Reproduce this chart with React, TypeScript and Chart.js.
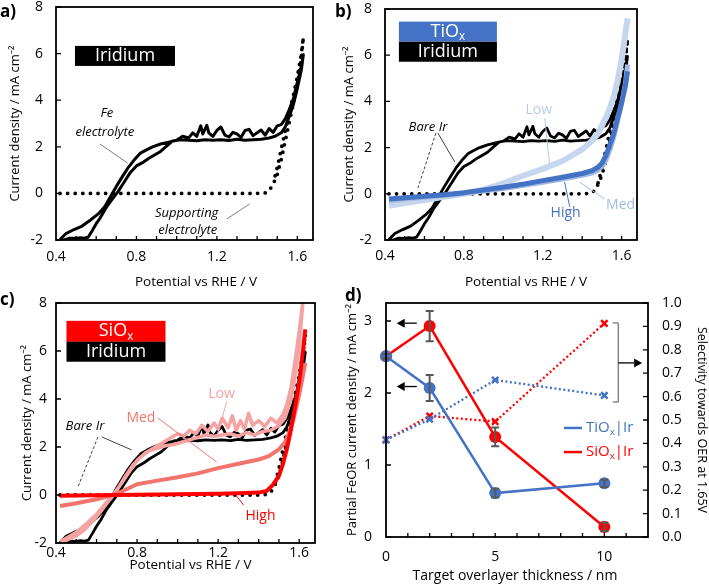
import React, { useEffect, useRef } from "react";
import { Chart, registerables } from "chart.js";

Chart.register(...registerables);

const FONT = '"Open Sans", "Noto Sans", "DejaVu Sans", sans-serif';

// ---------------- data ----------------
const potentialTicks = [0.4, 0.8, 1.2, 1.6];
const potentialMinorTicks = [0.5, 0.6, 0.7, 0.8, 0.9, 1.0, 1.1, 1.2, 1.3, 1.4, 1.5, 1.6];
const currentTicks = [-2, 0, 2, 4, 6, 8];
const thicknessTicks = [0, 5, 10];
const thicknessMinorTicks = [1, 2, 3, 4, 5, 6, 7, 8, 9, 10, 11];
const feorTicks = [0, 1, 2, 3];
const selectivityTicks = [0, 0.1, 0.2, 0.3, 0.4, 0.5, 0.6, 0.7, 0.8, 0.9, 1.0];

// Bare Ir in Fe electrolyte (forward then reverse sweep)
const bareIrPotential = [
  0.42, 0.45, 0.49, 0.53, 0.57, 0.61, 0.64, 0.67, 0.70, 0.73, 0.76, 0.79, 0.82, 0.85, 0.88, 0.92, 0.96, 1.00, 1.03, 1.06,
  1.08, 1.10, 1.12, 1.13, 1.15, 1.16, 1.18, 1.20, 1.22, 1.24, 1.26, 1.28, 1.30, 1.32, 1.34, 1.36, 1.38, 1.40, 1.42, 1.44,
  1.46, 1.48, 1.50, 1.52, 1.54, 1.56, 1.58, 1.60, 1.62, 1.63,
  1.62, 1.60, 1.58, 1.56, 1.54, 1.52, 1.49, 1.46, 1.42, 1.38, 1.34, 1.30, 1.26, 1.22, 1.18, 1.14, 1.10, 1.06, 1.02, 0.98,
  0.95, 0.92, 0.89, 0.86, 0.83, 0.80, 0.77, 0.74, 0.71, 0.68, 0.65, 0.62, 0.60, 0.58, 0.56, 0.54, 0.52, 0.50, 0.47, 0.44, 0.42,
];
const bareIrCurrent = [
  -1.98, -1.72, -1.55, -1.4, -1.15, -0.88, -0.6, -0.15, 0.3, 0.72, 1.12, 1.45, 1.73, 1.87, 2.0, 2.12, 2.2, 2.28, 2.45, 2.38,
  2.6, 2.45, 2.9, 2.55, 2.92, 2.6, 2.45, 2.7, 2.85, 2.5, 2.42, 2.62, 2.55, 2.4, 2.7, 2.75, 2.48, 2.6, 2.72, 2.5,
  2.78, 2.62, 2.9, 2.95, 3.2, 3.6, 4.05, 4.75, 5.45, 5.95,
  5.3, 4.5, 3.8, 3.3, 2.85, 2.6, 2.45, 2.38, 2.32, 2.3, 2.28, 2.32, 2.27, 2.3, 2.28, 2.3, 2.26, 2.28, 2.3, 2.25,
  2.03, 1.8, 1.65, 1.5, 1.32, 1.18, 0.9, 0.5, 0.1, -0.25, -0.6, -1.05, -1.3, -1.6, -1.88, -1.92, -1.9, -1.93, -1.92, -2.0, -2.05,
];

// Supporting electrolyte
const supportPotential = [
  0.42, 0.5, 0.6, 0.7, 0.8, 0.9, 1.0, 1.1, 1.2, 1.3, 1.4, 1.44, 1.46, 1.48, 1.5, 1.52, 1.54, 1.56, 1.58, 1.6, 1.62, 1.63,
  1.62, 1.6, 1.58, 1.56, 1.54, 1.52, 1.5, 1.48,
];
const supportCurrent = [
  0, 0, 0, 0, 0, 0, 0, 0, 0, 0, 0, 0.02, 0.12, 0.4, 0.8, 1.45, 2.25, 3.05, 3.85, 4.7, 5.8, 6.7,
  6.0, 5.0, 4.2, 3.45, 2.7, 1.9, 1.1, 0.45,
];

// TiOx | Ir
const tiLowPotential = [0.42, 0.5, 0.6, 0.7, 0.8, 0.9, 1.0, 1.1, 1.2, 1.3, 1.4, 1.45, 1.48, 1.5, 1.52, 1.54, 1.56, 1.58, 1.6, 1.63];
const tiLowCurrent = [-0.52, -0.4, -0.27, -0.13, 0.0, 0.18, 0.45, 0.78, 1.08, 1.42, 1.92, 2.3, 2.6, 2.95, 3.3, 3.7, 4.2, 4.9, 5.8, 7.6];
const tiMedPotential = [0.42, 0.5, 0.6, 0.7, 0.8, 0.9, 1.0, 1.1, 1.2, 1.3, 1.4, 1.45, 1.48, 1.5, 1.52, 1.54, 1.56, 1.58, 1.6, 1.62, 1.63];
const tiMedCurrent = [-0.3, -0.23, -0.15, -0.07, 0.02, 0.12, 0.23, 0.36, 0.5, 0.64, 0.8, 0.9, 1.02, 1.18, 1.45, 1.9, 2.45, 3.15, 3.9, 4.8, 5.6];
const tiHighPotential = [0.42, 0.5, 0.6, 0.7, 0.8, 0.9, 1.0, 1.1, 1.2, 1.3, 1.4, 1.45, 1.48, 1.5, 1.52, 1.54, 1.56, 1.58, 1.6, 1.62, 1.63];
const tiHighCurrent = [-0.23, -0.17, -0.11, -0.04, 0.05, 0.16, 0.28, 0.42, 0.57, 0.72, 0.88, 1.0, 1.15, 1.32, 1.65, 2.1, 2.6, 3.3, 3.95, 4.7, 5.3];

// SiOx | Ir
const siLowPotential = [
  0.42, 0.46, 0.5, 0.55, 0.6, 0.64, 0.68, 0.72, 0.76, 0.8, 0.84, 0.88, 0.92, 0.96, 1.0, 1.03, 1.06, 1.09, 1.12, 1.15,
  1.18, 1.2, 1.22, 1.25, 1.27, 1.29, 1.31, 1.33, 1.35, 1.37, 1.4, 1.43, 1.46, 1.49, 1.52, 1.54, 1.56, 1.58, 1.6, 1.62,
  1.6, 1.58, 1.56, 1.53, 1.5, 1.46, 1.42, 1.38, 1.34, 1.3, 1.26, 1.22, 1.18, 1.14, 1.1, 1.06, 1.02, 0.98, 0.94, 0.9,
  0.86, 0.82, 0.78, 0.74, 0.7, 0.66, 0.62, 0.58, 0.54, 0.5, 0.46, 0.43,
];
const siLowCurrent = [
  -1.95, -1.75, -1.55, -1.2, -0.8, -0.4, 0.0, 0.45, 0.95, 1.45, 1.75, 1.95, 2.15, 2.35, 2.55, 2.45, 2.7, 2.55, 2.9, 2.65,
  3.0, 2.75, 3.2, 2.8, 3.3, 2.7, 3.1, 2.75, 3.4, 2.9, 3.1, 2.85, 3.2, 3.0, 3.35, 3.8, 4.5, 5.6, 6.8, 8.2,
  6.2, 5.0, 4.0, 3.2, 2.9, 2.7, 2.65, 2.5, 2.6, 2.45, 2.55, 2.5, 2.45, 2.5, 2.4, 2.3, 2.2, 2.1, 2.05, 1.95,
  1.85, 1.6, 1.25, 0.75, 0.2, -0.25, -0.7, -1.1, -1.45, -1.7, -1.85, -1.98,
];
const siMedPotential = [0.42, 0.5, 0.6, 0.7, 0.75, 0.8, 0.9, 1.0, 1.1, 1.2, 1.3, 1.4, 1.45, 1.5, 1.53, 1.55, 1.57, 1.59, 1.61, 1.63];
const siMedCurrent = [-0.46, -0.34, -0.18, 0.05, 0.25, 0.45, 0.6, 0.74, 0.9, 1.12, 1.3, 1.48, 1.62, 1.9, 2.2, 2.6, 3.1, 3.8, 4.6, 5.5];
const siHighPotential = [0.42, 0.5, 0.6, 0.7, 0.8, 0.9, 1.0, 1.1, 1.2, 1.3, 1.4, 1.44, 1.47, 1.5, 1.52, 1.54, 1.56, 1.58, 1.6, 1.62, 1.63];
const siHighCurrent = [-0.03, -0.02, -0.01, 0, 0.01, 0.02, 0.03, 0.04, 0.05, 0.07, 0.1, 0.17, 0.42, 0.8, 1.3, 1.95, 2.75, 3.7, 4.7, 6.1, 6.9];

// Panel d
const thickness = [0, 2, 5, 10];
const tiFeor = [2.51, 2.07, 0.61, 0.745];
const tiFeorErr = [0.03, 0.18, 0.06, 0.05];
const siFeor = [2.51, 2.93, 1.39, 0.14];
const siFeorErr = [0.03, 0.21, 0.13, 0.06];
const tiSelectivity = [0.415, 0.503, 0.671, 0.605];
const siSelectivity = [0.415, 0.517, 0.493, 0.913];

// ---------------- styles ----------------
const BLUE = "#4472c4";
const RED = "#ff0000";
const TI_LOW = "#c7d6ef";
const TI_MED = "#a2bae1";
const SI_LOW = "#f5a3a2";
const SI_MED = "#f2746d";

const pts = (xs: number[], ys: number[]) => xs.map((x, i) => ({ x, y: ys[i] }));

interface Geom { left: number; top: number; width: number; height: number; L: number; T: number; R: number; B: number; }
const geomA: Geom = { left: 0, top: 0, width: 345, height: 292, L: 56, T: 7, R: 313, B: 240 };
const geomB: Geom = { left: 340, top: 0, width: 369, height: 292, L: 385, T: 9, R: 637, B: 240 };
const geomC: Geom = { left: 0, top: 290, width: 345, height: 296, L: 56, T: 303, R: 315, B: 543 };
const geomD: Geom = { left: 335, top: 290, width: 374, height: 296, L: 386, T: 303, R: 648, B: 537 };

type Run = { t: string; sub?: boolean };

function drawRuns(ctx: CanvasRenderingContext2D, runs: Run[], x: number, y: number, size: number, color: string, italic?: boolean, align?: string) {
  const fontOf = (sub?: boolean) => `${italic ? "italic " : ""}${sub ? size * 0.65 : size}px ${FONT}`;
  let total = 0;
  const widths = runs.map((r) => {
    ctx.font = fontOf(r.sub);
    const w = ctx.measureText(r.t).width;
    total += w;
    return w;
  });
  let cx = align === "left" ? x : align === "right" ? x - total : x - total / 2;
  ctx.textAlign = "left";
  ctx.textBaseline = "middle";
  ctx.fillStyle = color;
  runs.forEach((r, i) => {
    ctx.font = fontOf(r.sub);
    ctx.fillText(r.t, cx, y + (r.sub ? size * 0.3 : 0));
    cx += widths[i];
  });
}

function drawArrow(ctx: CanvasRenderingContext2D, x1: number, y1: number, x2: number, y2: number, color: string) {
  const a = Math.atan2(y2 - y1, x2 - x1);
  const hl = 8, hw = 4.5;
  const c = Math.cos(a), s = Math.sin(a);
  ctx.strokeStyle = color;
  ctx.lineWidth = 1.3;
  ctx.beginPath();
  ctx.moveTo(x1, y1);
  ctx.lineTo(x2 - hl * c, y2 - hl * s);
  ctx.stroke();
  ctx.fillStyle = color;
  ctx.beginPath();
  ctx.moveTo(x2, y2);
  ctx.lineTo(x2 - hl * c + hw * s, y2 - hl * s - hw * c);
  ctx.lineTo(x2 - hl * c - hw * s, y2 - hl * s + hw * c);
  ctx.closePath();
  ctx.fill();
}

function decoPlugin(d: any) {
  return {
    id: "deco",
    afterDatasetsDraw(chart: any) {
      const { ctx, chartArea: a, scales } = chart;
      const sx = scales.x;
      const ys = (ax?: string) => scales[ax || "y"];
      ctx.save();
      (d.errors || []).forEach((e: any) => {
        const sy = ys(e.ax);
        ctx.strokeStyle = "#595959";
        ctx.lineWidth = 2;
        e.xs.forEach((xv: number, i: number) => {
          const px = sx.getPixelForValue(xv);
          const t = sy.getPixelForValue(e.ys[i] + e.err[i]);
          const b = sy.getPixelForValue(e.ys[i] - e.err[i]);
          ctx.beginPath();
          ctx.moveTo(px, t); ctx.lineTo(px, b);
          ctx.moveTo(px - 4, t); ctx.lineTo(px + 4, t);
          ctx.moveTo(px - 4, b); ctx.lineTo(px + 4, b);
          ctx.stroke();
        });
      });
      d.ann.forEach((n: any) => {
        const sy = ys(n.ax);
        if (n.k === "text") {
          drawRuns(ctx, n.runs, sx.getPixelForValue(n.x), sy.getPixelForValue(n.y), n.size, n.color, n.italic, n.align);
        } else if (n.k === "box") {
          const cx = sx.getPixelForValue(n.x), cy = sy.getPixelForValue(n.y);
          ctx.fillStyle = n.fill;
          ctx.fillRect(cx - n.w / 2, cy - n.h / 2, n.w, n.h);
          drawRuns(ctx, n.runs, cx, cy, n.size, "#fff", false, "center");
        } else if (n.k === "line") {
          ctx.strokeStyle = n.color;
          ctx.lineWidth = n.w;
          ctx.setLineDash(n.dash || []);
          ctx.beginPath();
          ctx.moveTo(sx.getPixelForValue(n.x1), sy.getPixelForValue(n.y1));
          ctx.lineTo(sx.getPixelForValue(n.x2), sy.getPixelForValue(n.y2));
          ctx.stroke();
          ctx.setLineDash([]);
        } else if (n.k === "arrow") {
          drawArrow(ctx, sx.getPixelForValue(n.x1), sy.getPixelForValue(n.y1), sx.getPixelForValue(n.x2), sy.getPixelForValue(n.y2), n.color);
        }
      });
      if (d.xTitle) {
        ctx.font = `${d.xTitle.size}px ${FONT}`;
        ctx.fillStyle = "#000";
        ctx.textAlign = "center";
        ctx.textBaseline = "middle";
        ctx.fillText(d.xTitle.text, d.xTitle.cx, d.xTitle.cy);
      }
      ctx.setLineDash([]);
      ctx.strokeStyle = "#000";
      ctx.lineWidth = 1.8;
      ctx.strokeRect(a.left, a.top, a.right - a.left, a.bottom - a.top);
      ctx.lineWidth = 1.3;
      ctx.beginPath();
      d.xMinor.forEach((v: number) => {
        const p = sx.getPixelForValue(v);
        ctx.moveTo(p, a.bottom); ctx.lineTo(p, a.bottom - 4);
      });
      d.yMinor.forEach((v: number) => {
        const p = scales.y.getPixelForValue(v);
        ctx.moveTo(a.left, p); ctx.lineTo(a.left + 5, p);
      });
      (d.y1Minor || []).forEach((v: number) => {
        const p = scales.y1.getPixelForValue(v);
        ctx.moveTo(a.right, p); ctx.lineTo(a.right - 5, p);
      });
      ctx.stroke();
      ctx.restore();
    },
  };
}

const cvLine = (xs: number[], ys: number[], color: string, width: number, extra: any = {}) => ({
  data: pts(xs, ys),
  showLine: true,
  borderColor: color,
  backgroundColor: color,
  borderWidth: width,
  borderJoinStyle: "round",
  pointRadius: 0,
  ...extra,
});
const dotted = () =>
  cvLine(supportPotential, supportCurrent, "#000", 3.8, { borderDash: [0, 7.6], borderCapStyle: "round" });

const tickFont = { family: FONT, size: 14 };

function cvConfig(g: Geom, datasets: any[], deco: any, pad: any) {
  return {
    type: "scatter",
    data: { datasets },
    options: {
      animation: false,
      responsive: false,
      maintainAspectRatio: false,
      events: [],
      layout: { padding: { left: 0, top: g.T - g.top, right: g.left + g.width - g.R, bottom: 0 } },
      plugins: { legend: { display: false }, tooltip: { enabled: false } },
      scales: {
        x: {
          type: "linear", position: "bottom", min: 0.4, max: 1.678,
          grid: { display: false, drawTicks: false }, border: { display: false },
          afterBuildTicks: (s: any) => { s.ticks = potentialTicks.map((value) => ({ value })); },
          afterFit: (s: any) => { s.height = g.top + g.height - g.B; s.paddingLeft = 0; s.paddingRight = 0; },
          ticks: { padding: pad.xTick, color: "#000", font: tickFont, maxRotation: 0, autoSkip: false, callback: (v: any) => Number(v).toFixed(1) },
          title: { display: false },
        },
        y: {
          type: "linear", position: "left", min: -2, max: 8,
          grid: { display: false, drawTicks: false }, border: { display: false },
          afterBuildTicks: (s: any) => { s.ticks = currentTicks.map((value) => ({ value })); },
          afterFit: (s: any) => { s.width = g.L - g.left; s.paddingTop = 0; s.paddingBottom = 0; },
          ticks: { padding: pad.yTick, color: "#000", font: tickFont, autoSkip: false, callback: (v: any) => String(v) },
          title: { display: true, text: "Current density / mA cm⁻²", color: "#000", font: { family: FONT, size: 13 }, padding: { top: pad.yTitle, bottom: 0 } },
        },
      },
    },
    plugins: [decoPlugin({ ...deco, xMinor: potentialMinorTicks, yMinor: currentTicks })],
  };
}

const T = (t: string): Run[] => [{ t }];

function configA() {
  const g = geomA;
  return cvConfig(
    g,
    [cvLine(bareIrPotential, bareIrCurrent, "#000", 3), dotted()],
    {
      xTitle: { text: "Potential vs RHE / V", size: 13.5, cx: 196 - g.left, cy: 282 - g.top },
      ann: [
        { k: "box", x: 0.743, y: 5.9, w: 100, h: 20, fill: "#000", runs: T("Iridium"), size: 18 },
        { k: "text", x: 0.653, y: 3.45, runs: T("Fe"), color: "#000", size: 13, italic: true },
        { k: "text", x: 0.643, y: 2.64, runs: T("electrolyte"), color: "#000", size: 13, italic: true },
        { k: "line", x1: 0.618, y1: 2.12, x2: 0.757, y2: 1.3, color: "#7f7f7f", w: 1 },
        { k: "text", x: 1.05, y: -0.84, runs: T("Supporting"), color: "#000", size: 13, italic: true },
        { k: "text", x: 1.055, y: -1.57, runs: T("electrolyte"), color: "#000", size: 13, italic: true },
        { k: "line", x1: 1.249, y1: -1.1, x2: 1.363, y2: -0.45, color: "#7f7f7f", w: 1 },
      ],
    },
    { xTick: 8.6, yTick: 13, yTitle: 7.2 }
  );
}

function configB() {
  const g = geomB;
  return cvConfig(
    g,
    [
      cvLine(tiHighPotential, tiHighCurrent, BLUE, 5),
      cvLine(tiMedPotential, tiMedCurrent, TI_MED, 5),
      cvLine(tiLowPotential, tiLowCurrent, TI_LOW, 6),
      cvLine(bareIrPotential, bareIrCurrent, "#000", 2.8),
      dotted(),
    ],
    {
      xTitle: { text: "Potential vs RHE / V", size: 13.5, cx: 526 - g.left, cy: 282.5 - g.top },
      ann: [
        { k: "box", x: 0.719, y: 7.02, w: 98, h: 20, fill: BLUE, runs: [{ t: "TiO" }, { t: "x", sub: true }], size: 18 },
        { k: "box", x: 0.719, y: 6.15, w: 98, h: 20, fill: "#000", runs: T("Iridium"), size: 18 },
        { k: "text", x: 0.618, y: 2.89, runs: T("Bare Ir"), color: "#000", size: 13, italic: true },
        { k: "line", x1: 0.668, y1: 2.63, x2: 0.754, y2: 1.38, color: "#404040", w: 1 },
        { k: "line", x1: 0.658, y1: 2.63, x2: 0.567, y2: 0.25, color: "#404040", w: 1, dash: [3, 2] },
        { k: "text", x: 1.18, y: 3.63, runs: T("Low"), color: "#b9cbe9", size: 14 },
        { k: "line", x1: 1.21, y1: 3.28, x2: 1.235, y2: 1.25, color: "#b9cbe9", w: 1 },
        { k: "text", x: 1.595, y: -0.48, runs: T("Med"), color: TI_MED, size: 14 },
        { k: "line", x1: 1.514, y1: -0.23, x2: 1.387, y2: 0.51, color: TI_MED, w: 1 },
        { k: "text", x: 1.316, y: -0.83, runs: T("High"), color: BLUE, size: 14 },
        { k: "line", x1: 1.337, y1: -0.57, x2: 1.311, y2: 0.51, color: BLUE, w: 1 },
      ],
    },
    { xTick: 7.6, yTick: 13, yTitle: 1.2 }
  );
}

function configC() {
  const g = geomC;
  return cvConfig(
    g,
    [
      cvLine(siHighPotential, siHighCurrent, RED, 4),
      cvLine(siMedPotential, siMedCurrent, SI_MED, 4),
      cvLine(siLowPotential, siLowCurrent, SI_LOW, 3.5),
      cvLine(bareIrPotential, bareIrCurrent, "#000", 2.8),
      dotted(),
    ],
    {
      xTitle: { text: "Potential vs RHE / V", size: 13.5, cx: 190.5 - g.left, cy: 565 - g.top },
      ann: [
        { k: "box", x: 0.696, y: 6.82, w: 99, h: 21, fill: RED, runs: [{ t: "SiO" }, { t: "x", sub: true }], size: 18 },
        { k: "box", x: 0.696, y: 5.97, w: 99, h: 20, fill: "#000", runs: T("Iridium"), size: 18 },
        { k: "text", x: 0.543, y: 2.875, runs: T("Bare Ir"), color: "#000", size: 13, italic: true },
        { k: "line", x1: 0.626, y1: 2.42, x2: 0.774, y2: 1.875, color: "#404040", w: 1 },
        { k: "line", x1: 0.607, y1: 2.42, x2: 0.508, y2: 0.33, color: "#404040", w: 1, dash: [3, 2] },
        { k: "text", x: 0.819, y: 3.21, runs: T("Med"), color: SI_MED, size: 14 },
        { k: "line", x1: 0.902, y1: 3.21, x2: 1.193, y2: 1.375, color: SI_MED, w: 1 },
        { k: "text", x: 1.217, y: 4.21, runs: T("Low"), color: SI_LOW, size: 14 },
        { k: "line", x1: 1.242, y1: 3.875, x2: 1.193, y2: 2.42, color: SI_LOW, w: 1 },
        { k: "text", x: 1.409, y: -0.875, runs: T("High"), color: RED, size: 14 },
        { k: "line", x1: 1.326, y1: -0.42, x2: 1.291, y2: -0.04, color: RED, w: 1 },
      ],
    },
    { xTick: 1.6, yTick: 9, yTitle: 19.2 }
  );
}

function configD() {
  const g = geomD;
  const sel = (ys: number[], color: string) => ({
    data: pts(thickness, ys),
    yAxisID: "y1",
    showLine: true,
    borderColor: color,
    backgroundColor: color,
    borderWidth: 2.3,
    borderDash: [2, 2.5],
    pointStyle: "crossRot",
    pointRadius: 4.5,
    pointBorderWidth: 2.5,
    pointBorderColor: color,
    clip: false,
  });
  const feor = (ys: number[], color: string) => ({
    data: pts(thickness, ys),
    yAxisID: "y",
    showLine: true,
    borderColor: color,
    backgroundColor: color,
    pointBackgroundColor: color,
    borderWidth: 2.5,
    pointRadius: 6,
    pointBorderWidth: 0,
    clip: false,
  });
  return {
    type: "scatter",
    data: {
      datasets: [feor(tiFeor, BLUE), feor(siFeor, RED), sel(tiSelectivity, BLUE), sel(siSelectivity, RED)],
    },
    options: {
      animation: false,
      responsive: false,
      maintainAspectRatio: false,
      events: [],
      layout: { padding: { left: 0, top: g.T - g.top, right: 0, bottom: 0 } },
      plugins: { legend: { display: false }, tooltip: { enabled: false } },
      scales: {
        x: {
          type: "linear", position: "bottom", min: 0, max: 12,
          grid: { display: false, drawTicks: false }, border: { display: false },
          afterBuildTicks: (s: any) => { s.ticks = thicknessTicks.map((value) => ({ value })); },
          afterFit: (s: any) => { s.height = g.top + g.height - g.B; s.paddingLeft = 0; s.paddingRight = 0; },
          ticks: { padding: 11.6, color: "#000", font: tickFont, maxRotation: 0, autoSkip: false, callback: (v: any) => String(v) },
          title: { display: false },
        },
        y: {
          type: "linear", position: "left", min: 0, max: 3.25,
          grid: { display: false, drawTicks: false }, border: { display: false },
          afterBuildTicks: (s: any) => { s.ticks = feorTicks.map((value) => ({ value })); },
          afterFit: (s: any) => { s.width = g.L - g.left; s.paddingTop = 0; s.paddingBottom = 0; },
          ticks: { padding: 14, color: "#000", font: tickFont, autoSkip: false, callback: (v: any) => String(v) },
          title: { display: true, text: "Partial FeOR current density / mA cm⁻²", color: "#000", font: { family: FONT, size: 13 }, padding: { top: 9.2, bottom: 0 } },
        },
        y1: {
          type: "linear", position: "right", min: 0, max: 1,
          grid: { display: false, drawTicks: false }, border: { display: false },
          afterBuildTicks: (s: any) => { s.ticks = selectivityTicks.map((value) => ({ value })); },
          afterFit: (s: any) => { s.width = g.left + g.width - g.R; s.paddingTop = 0; s.paddingBottom = 0; },
          ticks: { padding: 14, color: "#000", font: tickFont, autoSkip: false, callback: (v: any) => Number(v).toFixed(1) },
          title: { display: true, text: "Selectivity towards OER at 1.65V", color: "#000", font: { family: FONT, size: 12.5 }, padding: { top: 0, bottom: 0 } },
        },
      },
    },
    plugins: [
      decoPlugin({
        xTitle: { text: "Target overlayer thickness / nm", size: 14, cx: 515 - g.left, cy: 576 - g.top },
        xMinor: thicknessMinorTicks,
        yMinor: feorTicks,
        y1Minor: selectivityTicks,
        errors: [
          { xs: thickness, ys: siFeor, err: siFeorErr },
          { xs: thickness, ys: tiFeor, err: tiFeorErr },
        ],
        ann: [
          { k: "arrow", x1: 1.41, y1: 2.97, x2: 0.49, y2: 2.97, color: "#000" },
          { k: "arrow", x1: 1.41, y1: 2.09, x2: 0.49, y2: 2.09, color: "#000" },
          { k: "line", ax: "y1", x1: 10.64, y1: 0.915, x2: 10.64, y2: 0.577, color: "#808080", w: 1.4 },
          { k: "line", ax: "y1", x1: 10.38, y1: 0.915, x2: 10.64, y2: 0.915, color: "#808080", w: 1.4 },
          { k: "line", ax: "y1", x1: 10.38, y1: 0.577, x2: 10.64, y2: 0.577, color: "#808080", w: 1.4 },
          { k: "arrow", ax: "y1", x1: 10.64, y1: 0.744, x2: 11.73, y2: 0.744, color: "#000" },
          { k: "line", ax: "y1", x1: 8.15, y1: 0.466, x2: 8.98, y2: 0.466, color: BLUE, w: 2.5 },
          { k: "text", ax: "y1", x: 9.16, y: 0.466, runs: [{ t: "TiO" }, { t: "x", sub: true }, { t: "|Ir" }], color: BLUE, size: 15, align: "left" },
          { k: "line", ax: "y1", x1: 8.15, y1: 0.363, x2: 8.98, y2: 0.363, color: RED, w: 2.5 },
          { k: "text", ax: "y1", x: 9.16, y: 0.363, runs: [{ t: "SiO" }, { t: "x", sub: true }, { t: "|Ir" }], color: RED, size: 15, align: "left" },
        ],
      }),
    ],
  };
}

function Panel({ geom, make }: { geom: Geom; make: () => any }) {
  const ref = useRef<HTMLCanvasElement>(null);
  useEffect(() => {
    const chart = new Chart(ref.current as HTMLCanvasElement, make());
    return () => chart.destroy();
  }, []);
  return (
    <canvas
      ref={ref}
      width={geom.width}
      height={geom.height}
      style={{ position: "absolute", left: geom.left, top: geom.top, width: geom.width, height: geom.height }}
    />
  );
}

const labelStyle: React.CSSProperties = {
  position: "absolute",
  fontFamily: FONT,
  fontWeight: 700,
  fontSize: 17,
  lineHeight: "18px",
  color: "#000",
};

export default function App() {
  return (
    <div style={{ position: "absolute", left: 0, top: 0, width: 709, height: 586, overflow: "hidden", background: "#fff" }}>
      <Panel geom={geomA} make={configA} />
      <Panel geom={geomB} make={configB} />
      <Panel geom={geomC} make={configC} />
      <Panel geom={geomD} make={configD} />
      <div style={{ ...labelStyle, left: 0, top: 2 }}>a)</div>
      <div style={{ ...labelStyle, left: 335, top: 2 }}>b)</div>
      <div style={{ ...labelStyle, left: 0, top: 290 }}>c)</div>
      <div style={{ ...labelStyle, left: 345, top: 286 }}>d)</div>
    </div>
  );
}
